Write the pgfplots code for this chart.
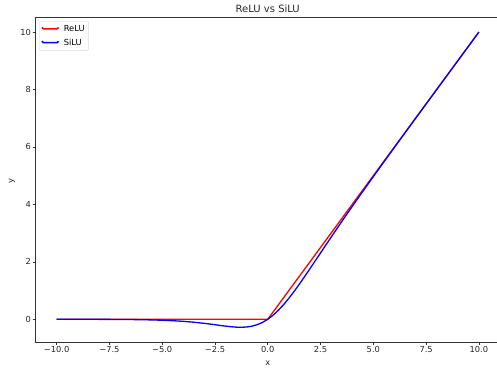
\documentclass[border=0pt]{standalone}
\usepackage{fontspec}
\setmainfont{DejaVu Sans}
\usepackage{pgfplots}
\pgfplotsset{compat=1.18}
\usetikzlibrary{calc}
\begin{document}
\begin{tikzpicture}
\begin{axis}[
  name=ax,
  scale only axis,
  width=464.5pt, height=324.7pt,
  xmin=-11, xmax=11, ymin=-0.7915, ymax=10.514,
  axis line style={line width=0.6pt, black!80},
  tick style={line width=0.6pt, black!80},
  tick align=outside,
  major tick length=2.9pt,
  xtick={-10,-7.5,-5,-2.5,0,2.5,5,7.5,10},
  xticklabels={−10.0,−7.5,−5.0,−2.5,0.0,2.5,5.0,7.5,10.0},
  ytick={0,2,4,6,8,10},
  yticklabels={0,2,4,6,8,10},
  xtick pos=bottom, ytick pos=left,
  ticklabel style={font=\fontsize{8.3}{10}\selectfont, text=black!85},
  xticklabel style={inner sep=1.5pt},
  yticklabel style={inner sep=1.5pt},
  legend cell align=left,
  legend style={at={(3.5/464.5,1-3.7/324.7)}, anchor=north west,
    draw=black!15, rounded corners=1.5pt, font=\fontsize{8.3}{10}\selectfont,
    inner xsep=2pt, inner ysep=2pt, row sep=2pt, /tikz/column sep=2.5pt,
    nodes={inner sep=2pt}},
  legend image code/.code={\draw[#1, line width=1.5pt] (0pt,0pt) rectangle (16.6pt,0pt);},
]
\addplot[red, line width=1.3pt] coordinates {(-10,0) (0,0) (10,10)};
\addlegendentry{ReLU}
\addplot[blue, line width=1.3pt] coordinates {
(-10,-0.000454) (-9.5,-0.000711) (-9,-0.00111) (-8.5,-0.00173) (-8,-0.00268)
(-7.5,-0.00415) (-7,-0.00638) (-6.5,-0.00976) (-6,-0.01484) (-5.5,-0.02239)
(-5,-0.03346) (-4.5,-0.04945) (-4,-0.07194) (-3.5,-0.10258) (-3,-0.14228)
(-2.75,-0.16524) (-2.5,-0.18965) (-2.25,-0.21453) (-2,-0.23841) (-1.75,-0.25908)
(-1.5,-0.27364) (-1.25,-0.27838) (-1,-0.26894) (-0.75,-0.24062) (-0.5,-0.18877)
(-0.25,-0.10946) (0,0) (0.25,0.14054) (0.5,0.31123) (0.75,0.50938) (1,0.73106)
(1.25,0.97163) (1.5,1.22636) (1.75,1.49092) (2,1.76159) (2.5,2.31035)
(3,2.85772) (3.5,3.39742) (4,3.92806) (4.5,4.45055) (5,4.96654) (5.5,5.47761)
(6,5.98516) (6.5,6.49024) (7,6.99362) (7.5,7.49585) (8,7.99732) (8.5,8.49827)
(9,8.99889) (9.5,9.49929) (10,9.99955)};
\addlegendentry{SiLU}
\end{axis}
\node[font=\fontsize{10}{12}\selectfont, text=black!85] at ($(ax.north)+(0,8.3pt)$) {ReLU vs SiLU};
\node[font=\fontsize{8.3}{10}\selectfont, text=black!85] at ($(ax.south)+(0,-21pt)$) {x};
\node[font=\fontsize{8.3}{10}\selectfont, text=black!85, rotate=90] at ($(ax.west)+(-23.5pt,-1.4pt)$) {y};
\pgfresetboundingbox
\useasboundingbox ($(ax.south west)+(-35.5pt,-26pt)$) rectangle ($(ax.north east)+(-3pt,17.3pt)$);
\end{tikzpicture}
\end{document}
